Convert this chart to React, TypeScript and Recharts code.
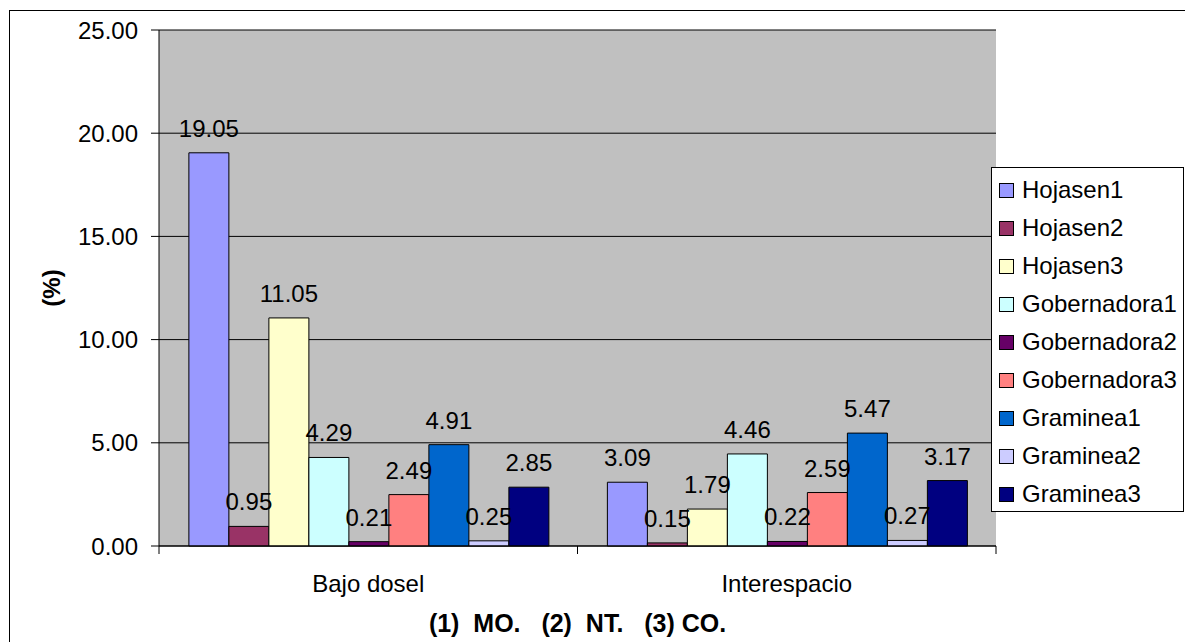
import React from 'react';
import { BarChart, Bar, XAxis, YAxis, CartesianGrid, Legend, LabelList } from 'recharts';

const categories = ['Bajo dosel', 'Interespacio'];
const hojasen1 = [19.05, 3.09];
const hojasen2 = [0.95, 0.15];
const hojasen3 = [11.05, 1.79];
const gobernadora1 = [4.29, 4.46];
const gobernadora2 = [0.21, 0.22];
const gobernadora3 = [2.49, 2.59];
const graminea1 = [4.91, 5.47];
const graminea2 = [0.25, 0.27];
const graminea3 = [2.85, 3.17];
const yTicks = [0, 5, 10, 15, 20, 25];
const seriesNames = [
  'Hojasen1', 'Hojasen2', 'Hojasen3',
  'Gobernadora1', 'Gobernadora2', 'Gobernadora3',
  'Graminea1', 'Graminea2', 'Graminea3',
];
const seriesValues = [
  hojasen1, hojasen2, hojasen3,
  gobernadora1, gobernadora2, gobernadora3,
  graminea1, graminea2, graminea3,
];
const seriesColors = [
  '#9999FF', '#993366', '#FFFFCC',
  '#CCFFFF', '#660066', '#FF8080',
  '#0066CC', '#CCCCFF', '#000080',
];
const xTitle = '(1)\u00A0\u00A0MO.\u00A0\u00A0\u00A0(2)\u00A0\u00A0NT.\u00A0\u00A0\u00A0(3)\u00A0CO.';
const yTitle = '(%)';

const data = categories.map((c, i) => {
  const row: Record<string, any> = { name: c };
  seriesNames.forEach((n, j) => {
    row[n] = seriesValues[j][i];
  });
  return row;
});

const FONT = "'Liberation Sans', Arial, Helvetica, sans-serif";

const CatTick = (props: any) => {
  const { x, y, payload } = props;
  const half = payload && typeof payload.offset === 'number' ? payload.offset : 0;
  const y0 = y - 29;
  return (
    <g>
      {half > 0 && (
        <>
          <line x1={x - half} x2={x - half} y1={y0} y2={y0 + 8} stroke="#000" strokeWidth={1} />
          <line x1={x + half} x2={x + half} y1={y0} y2={y0 + 8} stroke="#000" strokeWidth={1} />
        </>
      )}
      <text x={x} y={y} dy="0.71em" textAnchor="middle" fontSize={24} fill="#000" fontFamily={FONT}>
        {payload.value}
      </text>
    </g>
  );
};

const LegendBox = () => (
  <div
    style={{
      position: 'absolute',
      left: 0,
      top: 0,
      width: 193,
      height: 345,
      boxSizing: 'border-box',
      border: '1px solid #000',
      background: '#fff',
      paddingTop: 3,
      fontFamily: FONT,
    }}
  >
    {seriesNames.map((n, i) => (
      <div key={n} style={{ display: 'flex', alignItems: 'center', height: 38 }}>
        <span
          style={{
            display: 'inline-block',
            width: 15,
            height: 15,
            boxSizing: 'border-box',
            border: '1px solid #000',
            background: seriesColors[i],
            marginLeft: 7,
            marginRight: 8,
          }}
        />
        <span style={{ fontSize: 24, color: '#000', lineHeight: '24px', whiteSpace: 'nowrap' }}>{n}</span>
      </div>
    ))}
  </div>
);

export default function App() {
  return (
    <div
      style={{
        position: 'relative',
        width: 1185,
        height: 642,
        overflow: 'hidden',
        background: '#fff',
        fontFamily: FONT,
      }}
    >
      <style>{'body{margin:0;}'}</style>
      <div
        style={{
          position: 'absolute',
          left: 9,
          top: 10,
          width: 1300,
          height: 800,
          border: '1px solid #000',
          boxSizing: 'border-box',
        }}
      />
      <BarChart
        width={1185}
        height={642}
        data={data}
        margin={{ top: 30, right: 189, bottom: 0, left: 0 }}
        barCategoryGap="7.14%"
        barGap={0}
        style={{ fontFamily: FONT }}
      >
        <CartesianGrid vertical={false} stroke="#000" strokeWidth={1} fill="#C0C0C0" fillOpacity={1} />
        <XAxis
          dataKey="name"
          height={96}
          axisLine={{ stroke: '#000' }}
          tickLine={false}
          tickSize={8}
          tickMargin={21}
          tick={<CatTick />}
          interval={0}
          label={{
            value: xTitle,
            position: 'insideBottom',
            offset: 10,
            style: { fontWeight: 'bold', fontSize: 25, fill: '#000', fontFamily: FONT },
          }}
        />
        <XAxis
          xAxisId="top"
          orientation="top"
          dataKey="name"
          height={0}
          axisLine={{ stroke: '#808080' }}
          tickLine={false}
          tick={false}
        />
        <YAxis
          width={159}
          domain={[0, 25]}
          ticks={yTicks}
          interval={0}
          tickFormatter={(v: number) => v.toFixed(2)}
          axisLine={{ stroke: '#000' }}
          tickLine={{ stroke: '#000' }}
          tickSize={8}
          tickMargin={13}
          tick={{ fill: '#000', fontSize: 24, fontFamily: FONT }}
          label={{
            value: yTitle,
            angle: -90,
            position: 'insideLeft',
            offset: 51,
            style: { textAnchor: 'middle', fontWeight: 'bold', fontSize: 24, fill: '#000', fontFamily: FONT },
          }}
        />
        <YAxis
          yAxisId="right"
          orientation="right"
          width={0}
          domain={[0, 25]}
          type="number"
          axisLine={{ stroke: '#808080' }}
          tickLine={false}
          tick={false}
        />
        <Legend
          layout="horizontal"
          verticalAlign="middle"
          align="right"
          content={<LegendBox />}
          wrapperStyle={{ left: 991, top: 167, width: 0, height: 0, overflow: 'visible' }}
        />
        {seriesNames.map((n, i) => (
          <Bar
            key={n}
            dataKey={n}
            name={n}
            fill={seriesColors[i]}
            stroke="#000"
            strokeWidth={1}
            isAnimationActive={false}
          >
            <LabelList
              dataKey={n}
              position="top"
              offset={16}
              formatter={(v: any) => Number(v).toFixed(2)}
              fill="#000"
              fontSize={24}
              fontFamily={FONT}
            />
          </Bar>
        ))}
      </BarChart>
    </div>
  );
}
